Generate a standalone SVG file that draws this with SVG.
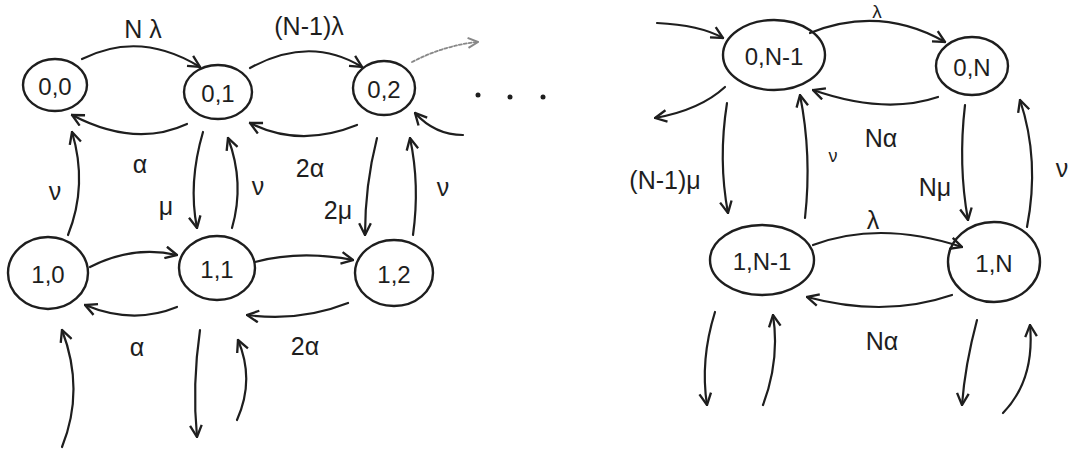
<svg xmlns="http://www.w3.org/2000/svg" width="1072" height="450" viewBox="0 0 1072 450">
<style>
.node ellipse{fill:none;stroke:#1e1e1e;stroke-width:2.4}
.node text{font-family:"Liberation Sans","DejaVu Sans",sans-serif;font-size:24px;fill:#1e1e1e;text-anchor:middle;dominant-baseline:central}
.edge{fill:none;stroke:#1e1e1e;stroke-width:2.2;stroke-linecap:round;marker-end:url(#ah)}
.faint{stroke:#888;stroke-width:1.8;stroke-dasharray:3 2;marker-end:url(#ahf)}
.lbl{font-family:"Liberation Sans","DejaVu Sans",sans-serif;font-size:25px;fill:#1e1e1e;text-anchor:middle;dominant-baseline:central}
</style>
<defs>
<marker id="ah" viewBox="0 0 12 12" refX="11" refY="6" markerWidth="14" markerHeight="14" markerUnits="userSpaceOnUse" orient="auto">
<path d="M1,1 L11,6 L1,11" fill="none" stroke="#1e1e1e" stroke-width="2"/>
</marker>
<marker id="ahf" viewBox="0 0 12 12" refX="11" refY="6" markerWidth="12" markerHeight="12" markerUnits="userSpaceOnUse" orient="auto">
<path d="M1,1 L11,6 L1,11" fill="none" stroke="#888" stroke-width="2"/>
</marker>
</defs>
<rect width="1072" height="450" fill="#ffffff"/>
<g id="connectors">
<path class="edge" d="M82,59 Q140,30 200,67"/>
<path class="edge" d="M187,124 Q135,148 72,115"/>
<path class="edge" d="M250,68 Q310,35 362,67"/>
<path class="edge" d="M357,125 Q300,148 250,123"/>
<path class="edge faint" d="M412,62 Q445,45 478,42"/>
<path class="edge" d="M463,135 Q435,135 415,113"/>
<path class="edge" d="M68,235 Q88,185 72,132"/>
<path class="edge" d="M203,132 Q188,183 197,228"/>
<path class="edge" d="M232,228 Q245,183 228,138"/>
<path class="edge" d="M377,138 Q365,185 365,235"/>
<path class="edge" d="M413,235 Q420,185 410,138"/>
<path class="edge" d="M90,267 Q133,245 177,255"/>
<path class="edge" d="M177,307 Q133,325 85,305"/>
<path class="edge" d="M255,262 Q300,250 353,260"/>
<path class="edge" d="M348,303 Q300,322 247,315"/>
<path class="edge" d="M62,447 Q85,390 62,330"/>
<path class="edge" d="M200,330 Q192,385 197,437"/>
<path class="edge" d="M237,420 Q255,380 238,340"/>
<path class="edge" d="M657,23 Q700,25 723,38"/>
<path class="edge" d="M725,87 Q700,110 655,118"/>
<path class="edge" d="M727,103 Q718,160 728,213"/>
<path class="edge" d="M805,218 Q812,155 800,95"/>
<path class="edge" d="M810,33 Q880,5 945,42"/>
<path class="edge" d="M938,97 Q885,115 813,90"/>
<path class="edge" d="M965,105 Q958,165 968,220"/>
<path class="edge" d="M1027,227 Q1040,160 1020,100"/>
<path class="edge" d="M813,245 Q880,220 962,247"/>
<path class="edge" d="M952,295 Q885,318 807,297"/>
<path class="edge" d="M715,312 Q700,360 707,405"/>
<path class="edge" d="M763,405 Q780,360 773,315"/>
<path class="edge" d="M977,320 Q965,365 962,405"/>
<path class="edge" d="M1003,413 Q1035,380 1030,325"/>
</g>
<g id="labels">
<text class="lbl" x="143" y="29">N λ</text>
<text class="lbl" x="309" y="26">(N-1)λ</text>
<text class="lbl" x="140" y="164">α</text>
<text class="lbl" x="310" y="168">2α</text>
<text class="lbl" x="55" y="191">ν</text>
<text class="lbl" x="166" y="206">μ</text>
<text class="lbl" x="258" y="186">ν</text>
<text class="lbl" x="338" y="210">2μ</text>
<text class="lbl" x="443" y="187">ν</text>
<text class="lbl" x="137" y="347">α</text>
<text class="lbl" x="305" y="346">2α</text>
<text class="lbl" x="665" y="180">(N-1)μ</text>
<text class="lbl" x="833" y="156" style="font-size:18px">ν</text>
<text class="lbl" x="881" y="138">Nα</text>
<text class="lbl" x="877" y="11" style="font-size:19px">λ</text>
<text class="lbl" x="935" y="187">Nμ</text>
<text class="lbl" x="1062" y="168">ν</text>
<text class="lbl" x="873" y="220">λ</text>
<text class="lbl" x="882" y="341">Nα</text>
</g>
<g id="dots" fill="#1e1e1e">
<circle cx="478" cy="95" r="2.5"/>
<circle cx="510" cy="97" r="2.5"/>
<circle cx="543" cy="97" r="2.5"/>
</g>
<g id="n00" class="node"><ellipse cx="55" cy="85" rx="32" ry="26"/><text x="55" y="86">0,0</text></g>
<g id="n01" class="node"><ellipse cx="218" cy="92" rx="34" ry="27"/><text x="218" y="93">0,1</text></g>
<g id="n02" class="node"><ellipse cx="384" cy="88" rx="31" ry="27"/><text x="384" y="89">0,2</text></g>
<g id="n10" class="node"><ellipse cx="48" cy="273" rx="40" ry="36"/><text x="48" y="274">1,0</text></g>
<g id="n11" class="node"><ellipse cx="217" cy="268" rx="38" ry="32"/><text x="217" y="269">1,1</text></g>
<g id="n12" class="node"><ellipse cx="394" cy="273" rx="39" ry="33"/><text x="394" y="274">1,2</text></g>
<g id="n0N1" class="node"><ellipse cx="774" cy="55" rx="51" ry="35"/><text x="774" y="56">0,N-1</text></g>
<g id="n0N" class="node"><ellipse cx="972" cy="66" rx="36" ry="29"/><text x="972" y="67">0,N</text></g>
<g id="n1N1" class="node"><ellipse cx="762" cy="260" rx="52" ry="35"/><text x="762" y="261">1,N-1</text></g>
<g id="n1N" class="node"><ellipse cx="994" cy="262" rx="46" ry="40"/><text x="994" y="263">1,N</text></g>
</svg>
